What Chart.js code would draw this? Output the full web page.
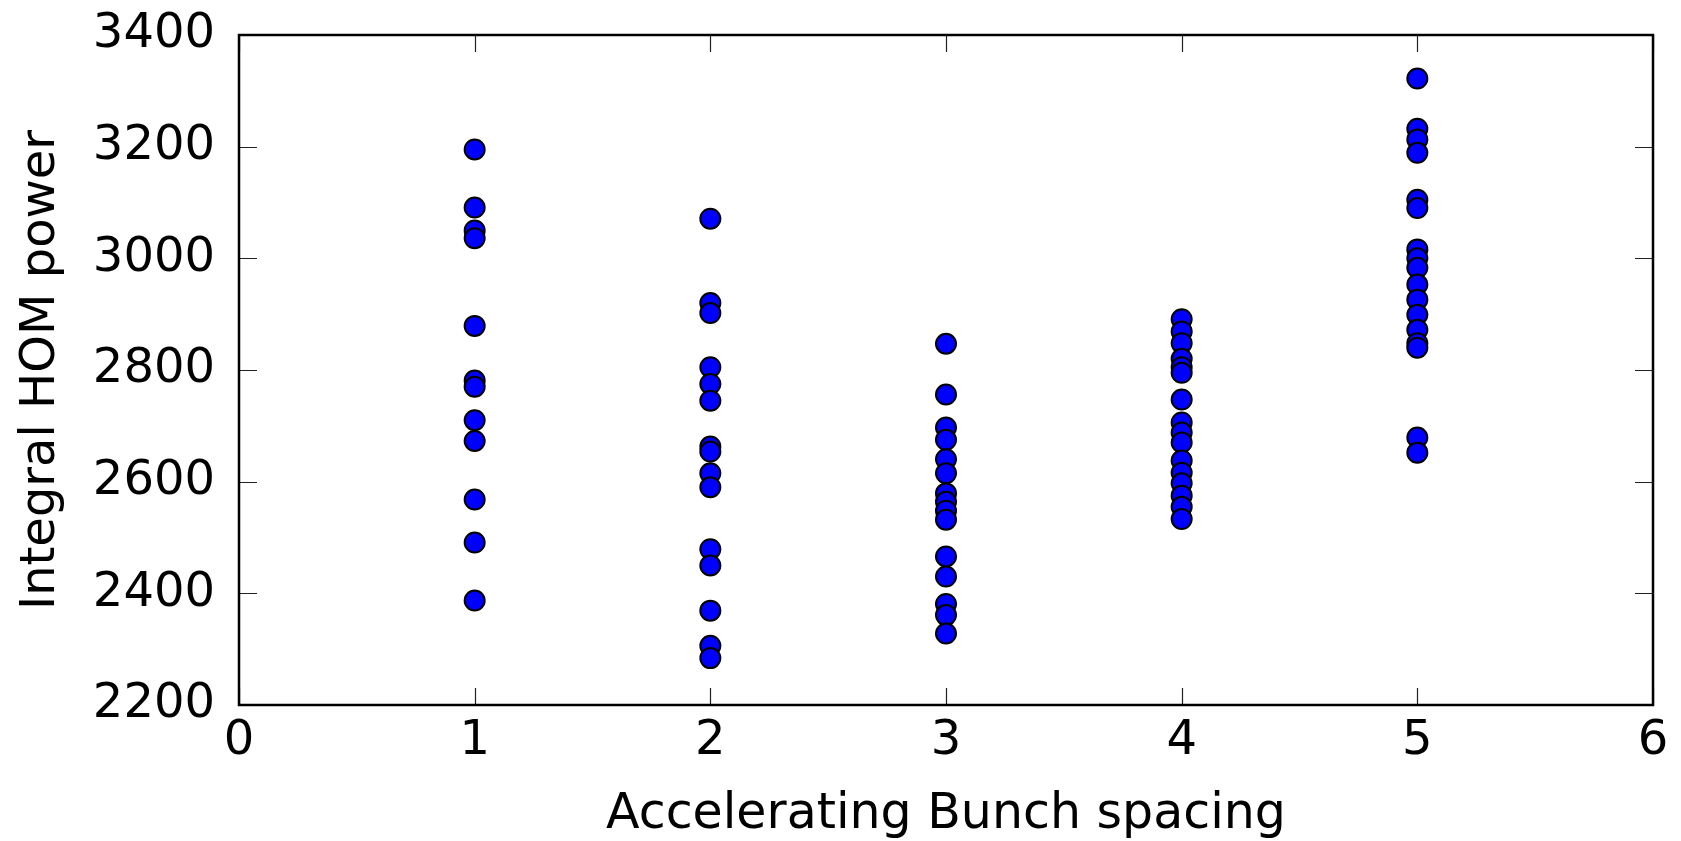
<!DOCTYPE html>
<html>
<head>
<meta charset="utf-8">
<script src="https://cdn.jsdelivr.net/npm/chart.js@4.4.1/dist/chart.umd.min.js"></script>
<style>
  html, body { margin: 0; padding: 0; background: #ffffff; }
  #wrap { width: 1681px; height: 841px; position: relative; }
</style>
</head>
<body>
<div id="wrap"><canvas id="c"></canvas></div>
<script>
// ---- data ----
const spacings = [1, 2, 3, 4, 5];
const power1 = [3195, 3091, 3050, 3036, 2879, 2781, 2770, 2710, 2673, 2568, 2491, 2387];
const power2 = [3071, 2920, 2902, 2805, 2775, 2745, 2663, 2654, 2615, 2590, 2479, 2450, 2369, 2306, 2284];
const power3 = [2847, 2756, 2697, 2675, 2640, 2615, 2579, 2564, 2548, 2532, 2466, 2430, 2381, 2361, 2328];
const power4 = [2891, 2869, 2848, 2820, 2805, 2795, 2747, 2706, 2688, 2670, 2638, 2616, 2597, 2575, 2555, 2533];
const power5 = [3322, 3232, 3213, 3189, 3105, 3090, 3016, 3000, 2983, 2953, 2926, 2899, 2872, 2848, 2840, 2679, 2652];
const xTickValues = [0, 1, 2, 3, 4, 5, 6];
const yTickValues = [2200, 2400, 2600, 2800, 3000, 3200, 3400];
const xTitle = 'Accelerating Bunch spacing';
const yTitle = 'Integral HOM power';

const seriesList = [power1, power2, power3, power4, power5];
const points = [];
seriesList.forEach((arr, i) => arr.forEach(v => points.push({ x: spacings[i], y: v })));

const FONT = 'DejaVu Sans';

// frame + inward ticks on all four sides
const framePlugin = {
  id: 'frame',
  afterDatasetsDraw(chart) {
    const { ctx, chartArea: a, scales } = chart;
    ctx.save();
    ctx.strokeStyle = '#222222';
    ctx.lineWidth = 1.2;
    ctx.beginPath();
    xTickValues.forEach(v => {
      const px = Math.round(scales.x.getPixelForValue(v)) + 0.5;
      ctx.moveTo(px, a.bottom); ctx.lineTo(px, a.bottom - 17);
      ctx.moveTo(px, a.top); ctx.lineTo(px, a.top + 17);
    });
    yTickValues.forEach(v => {
      const py = Math.round(scales.y.getPixelForValue(v)) + 0.5;
      ctx.moveTo(a.left, py); ctx.lineTo(a.left + 18, py);
      ctx.moveTo(a.right, py); ctx.lineTo(a.right - 18, py);
    });
    ctx.stroke();
    ctx.strokeStyle = '#000000';
    ctx.lineWidth = 2.5;
    ctx.strokeRect(a.left, a.top, a.right - a.left, a.bottom - a.top);
    ctx.restore();
  }
};

new Chart(document.getElementById('c'), {
  type: 'scatter',
  data: {
    datasets: [{
      data: points,
      pointRadius: 10,
      pointHoverRadius: 10,
      pointBackgroundColor: '#0000ff',
      pointBorderColor: '#000000',
      pointBorderWidth: 2
    }]
  },
  options: {
    responsive: true,
    maintainAspectRatio: false,
    animation: false,
    events: [],
    layout: { padding: { left: 0, right: 28, top: 35, bottom: 0 } },
    plugins: { legend: { display: false }, tooltip: { enabled: false } },
    scales: {
      x: {
        type: 'linear',
        min: xTickValues[0],
        max: xTickValues[xTickValues.length - 1],
        afterBuildTicks: s => { s.ticks = xTickValues.map(v => ({ value: v })); },
        afterFit: s => { s.height = 136; s.paddingLeft = 0; s.paddingRight = 0; },
        grid: { display: false, drawTicks: false },
        border: { display: false },
        ticks: {
          color: '#000000',
          padding: 8,
          maxRotation: 0,
          autoSkip: false,
          callback: v => String(v),
          font: { family: FONT, size: 48 }
        },
        title: {
          display: true,
          text: xTitle,
          color: '#000000',
          font: { family: FONT, size: 49, lineHeight: 1 },
          padding: { top: 0, bottom: 1 }
        }
      },
      y: {
        type: 'linear',
        min: yTickValues[0],
        max: yTickValues[yTickValues.length - 1],
        afterBuildTicks: s => { s.ticks = yTickValues.map(v => ({ value: v })); },
        afterFit: s => { s.width = 239; s.paddingTop = 0; s.paddingBottom = 0; },
        grid: { display: false, drawTicks: false },
        border: { display: false },
        ticks: {
          color: '#000000',
          padding: 24,
          autoSkip: false,
          callback: v => String(v),
          font: { family: FONT, size: 48 }
        },
        title: {
          display: true,
          text: yTitle,
          color: '#000000',
          font: { family: FONT, size: 48, lineHeight: 1 },
          padding: { top: 18, bottom: 0 }
        }
      }
    }
  },
  plugins: [framePlugin]
});
</script>
</body>
</html>
